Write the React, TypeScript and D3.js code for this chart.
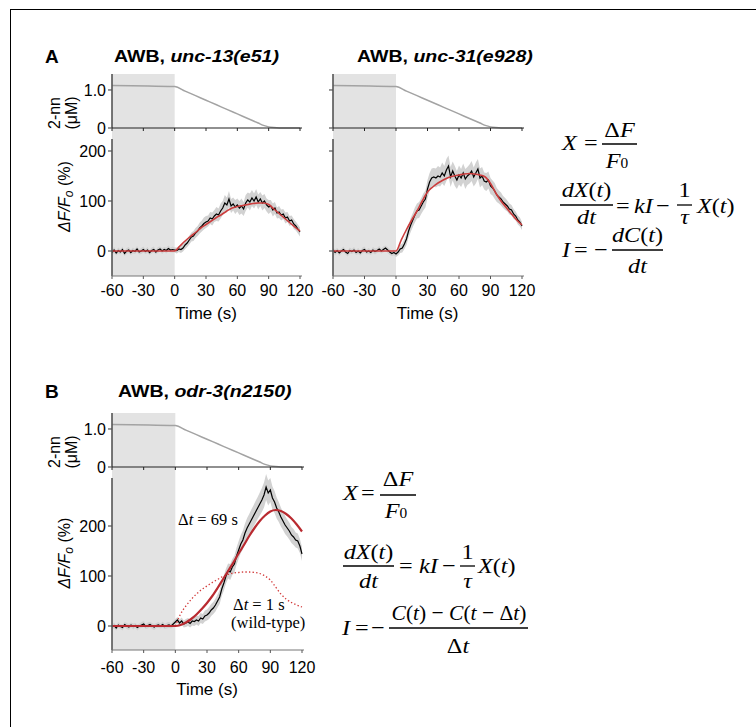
import React from 'react';
import * as d3 from 'd3';

const sans = '"Liberation Sans", Arial, Helvetica, sans-serif';
const serif = '"Liberation Serif", "Times New Roman", serif';

// time axis
const xTicks = [-60, -30, 0, 30, 60, 90, 120];
const stimTicks = [0, 1.0];
const respTicks = [0, 100, 200];
const traceTime = d3.range(-60, 121, 2);
const fitTime = [-60, -30, 0, 5, 10, 15, 20, 25, 30, 35, 40, 45, 50, 55, 60, 65, 70, 75, 80, 85, 90, 95, 100, 105, 110, 115, 120];
const dotTime = [0, 5, 10, 15, 20, 25, 30, 35, 40, 45, 50, 55, 60, 65, 70, 75, 80, 85, 90, 95, 100, 105, 110, 115, 120];

// 2-nonanone stimulus (uM)
const stimTime = [-60, 0, 10, 20, 30, 40, 50, 60, 70, 80, 85, 90, 95, 100, 120];
const stimConc = [1.12, 1.09, 0.97, 0.85, 0.73, 0.61, 0.49, 0.37, 0.25, 0.13, 0.07, 0.03, 0.01, 0, 0];

// baseline SEM (-60..-2 s)
const semPre = [5, 6, 5, 6, 5, 6, 5, 6, 6, 5, 6, 5, 6, 5, 6, 6, 5, 6, 5, 6, 6, 5, 6, 5, 6, 5, 6, 6, 5, 6];

// unc-13(e51)
const unc13Pre = [-3, 2, -4, 1, -2, 3, -5, 0, 2, -3, 1, -1, 4, -2, 0, 3, -1, 2, -3, 1, 3, -2, 2, 4, 0, 3, 1, 5, 2, 3];
const unc13Post = [
  2, 1, 4, 3, 6, 12, 16, 22, 28, 30,
  36, 40, 46, 50, 55, 58, 60, 66, 64, 70,
  74, 72, 80, 86, 96, 92, 104, 90, 94, 88,
  92, 86, 90, 84, 96, 102, 98, 106, 100, 108,
  98, 104, 96, 100, 92, 88, 90, 82, 86, 76,
  78, 72, 74, 66, 68, 60, 62, 54, 50, 44,
  38];
const unc13Sem = [
  5, 6, 6, 7, 7, 8, 8, 9, 9, 10,
  10, 10, 11, 11, 12, 12, 11, 12, 13, 12,
  14, 13, 15, 14, 16, 15, 16, 14, 13, 14,
  13, 14, 15, 14, 16, 15, 17, 16, 15, 16,
  15, 14, 15, 14, 13, 14, 12, 13, 12, 11,
  12, 11, 10, 11, 10, 10, 9, 10, 9, 9,
  9];
const unc13Fit = [0, 0, 0, 10, 20, 29, 37, 46, 53, 60, 67, 73, 80, 86, 89, 91, 93, 95, 96, 96, 93, 84, 75, 66, 57, 48, 40];

// unc-31(e928)
const unc31Pre = [2, -3, 1, -4, 0, 3, -2, -5, 1, -1, 2, -3, 0, -4, 1, 3, -2, 0, -3, 2, -1, 1, 4, 0, 3, 6, 2, -2, -5, -3];
const unc31Post = [
  -6, -2, 4, 6, 14, 24, 40, 52, 62, 72,
  80, 82, 90, 98, 104, 124, 138, 146, 148, 146,
  150, 148, 156, 150, 162, 170, 148, 160, 150, 142,
  152, 146, 156, 144, 150, 154, 160, 148, 156, 164,
  146, 150, 140, 138, 142, 130, 126, 120, 112, 108,
  104, 98, 94, 90, 84, 82, 74, 70, 62, 58,
  50];
const unc31Sem = [
  6, 7, 8, 9, 10, 12, 13, 14, 14, 15,
  15, 16, 16, 17, 17, 18, 18, 19, 18, 19,
  20, 19, 21, 20, 22, 21, 20, 19, 20, 18,
  19, 18, 19, 20, 18, 19, 20, 19, 21, 20,
  19, 18, 17, 18, 17, 16, 15, 16, 14, 13,
  13, 12, 12, 11, 11, 10, 10, 9, 9, 9,
  8];
const unc31Fit = [0, 0, 0, 22, 43, 62, 80, 100, 118, 128, 136, 142, 147, 150, 152, 154, 155, 154, 152, 148, 135, 116, 100, 87, 74, 62, 52];

// odr-3(n2150)
const odr3Pre = [-2, 1, -4, 2, -1, -3, 3, 0, -2, 2, -1, 1, -3, 0, 2, 4, -1, 1, 3, 0, -2, 1, 2, 0, 3, -1, 1, 2, 0, 4];
const odr3Post = [
  8, 12, 6, 10, 4, 6, 8, 5, 10, 9,
  12, 10, 16, 14, 20, 22, 26, 32, 36, 42,
  50, 58, 74, 86, 100, 110, 108, 118, 124, 140,
  152, 164, 172, 186, 196, 204, 212, 220, 228, 236,
  244, 252, 262, 278, 266, 272, 256, 248, 236, 228,
  218, 210, 202, 196, 190, 182, 178, 172, 170, 160,
  144];
const odr3Sem = [
  6, 6, 7, 7, 7, 8, 8, 8, 9, 9,
  9, 10, 10, 10, 11, 11, 12, 12, 12, 13,
  13, 14, 14, 15, 15, 15, 16, 16, 17, 17,
  18, 18, 19, 19, 20, 20, 21, 21, 22, 22,
  23, 24, 25, 26, 25, 24, 23, 22, 21, 20,
  19, 18, 18, 17, 17, 16, 16, 15, 15, 14,
  14];
const odr3Fit = [0, 0, 0, 2, 7, 14, 23, 34, 46, 60, 76, 93, 110, 127, 145, 162, 180, 196, 210, 221, 229, 232, 230, 224, 215, 203, 189];
const wildTypeFit = [0, 24, 40, 53, 64, 73, 80, 87, 93, 99, 103, 106, 107, 108, 108, 107, 105, 100, 92, 78, 64, 54, 47, 42, 38];

type PanelProps = {
  left: number; right: number;
  topTop: number; topBot: number; botTop: number; botBot: number;
  botDomain: [number, number];
  mean: number[]; sem: number[]; fit: number[]; dotted?: number[];
  labels: boolean;
  fitColor: string; fitWidth: number;
  tickY: number; timeY: number;
};

function Panel(p: PanelProps) {
  const x = d3.scaleLinear().domain([-60, 120]).range([p.left, p.right]);
  const yS = d3.scaleLinear().domain([0, 1.42]).range([p.topBot, p.topTop]);
  const yR = d3.scaleLinear().domain(p.botDomain).range([p.botBot, p.botTop]);

  const band = d3.area<number>()
    .x((_, i) => x(traceTime[i]))
    .y0((d, i) => yR(d - (p.sem[i] ?? 6)))
    .y1((d, i) => yR(d + (p.sem[i] ?? 6)));
  const meanLine = d3.line<number>().x((_, i) => x(traceTime[i])).y((d) => yR(d));
  const fitLine = d3.line<number>().x((_, i) => x(fitTime[i])).y((d) => yR(d)).curve(d3.curveMonotoneX);
  const dotLine = d3.line<number>().x((_, i) => x(dotTime[i])).y((d) => yR(d)).curve(d3.curveMonotoneX);
  const stimLine = d3.line<number>().x((_, i) => x(stimTime[i])).y((d) => yS(d)).curve(d3.curveMonotoneX);

  const topMid = (p.topTop + p.topBot) / 2;
  const botMid = (p.botTop + p.botBot) / 2;

  return (
    <g>
      <rect x={x(-60)} y={p.topTop} width={x(0) - x(-60)} height={p.botBot - p.topTop} fill="#e3e3e3" />
      <path d={band(p.mean) || ''} fill="#d2d2d2" />
      <path d={meanLine(p.mean) || ''} fill="none" stroke="#000" strokeWidth={1.2} />
      {p.dotted && (
        <path d={dotLine(p.dotted) || ''} fill="none" stroke="#d23a3a" strokeWidth={1.3} strokeDasharray="1.4,2.2" />
      )}
      <path d={fitLine(p.fit) || ''} fill="none" stroke={p.fitColor} strokeWidth={p.fitWidth} />
      <path d={stimLine(stimConc) || ''} fill="none" stroke="#a3a3a3" strokeWidth={1.5} />

      {/* top stimulus axes */}
      <line x1={p.left} x2={p.left} y1={p.topTop} y2={p.topBot} stroke="#555" strokeWidth={1.6} />
      <line x1={p.left} x2={p.right + 2} y1={p.topBot} y2={p.topBot} stroke="#222" strokeWidth={1.2} />
      {xTicks.map((t) => (
        <line key={'tt' + t} x1={x(t)} x2={x(t)} y1={p.topBot} y2={p.topBot + 3} stroke="#222" strokeWidth={1} />
      ))}
      {stimTicks.map((v) => (
        <g key={'st' + v}>
          <line x1={p.left - 4} x2={p.left} y1={yS(v)} y2={yS(v)} stroke="#555" strokeWidth={1.2} />
          {p.labels && (
            <text x={p.left - 6} y={yS(v) + 6} textAnchor="end" fontFamily={sans} fontSize={16}>
              {v === 0 ? '0' : '1.0'}
            </text>
          )}
        </g>
      ))}

      {/* response axes */}
      <line x1={p.left} x2={p.left} y1={p.botTop} y2={p.botBot} stroke="#555" strokeWidth={1.6} />
      <line x1={p.left} x2={p.right + 2} y1={p.botBot} y2={p.botBot} stroke="#777" strokeWidth={1} />
      {xTicks.map((t) => (
        <g key={'bt' + t}>
          <line x1={x(t)} x2={x(t)} y1={p.botBot} y2={p.botBot + 3} stroke="#555" strokeWidth={1} />
          <text x={x(t)} y={p.tickY} textAnchor="middle" fontFamily={sans} fontSize={16}>{t}</text>
        </g>
      ))}
      {respTicks.map((v) => (
        <g key={'rt' + v}>
          <line x1={p.left - 4} x2={p.left} y1={yR(v)} y2={yR(v)} stroke="#555" strokeWidth={1.2} />
          {p.labels && (
            <text x={p.left - 6} y={yR(v) + 6} textAnchor="end" fontFamily={sans} fontSize={16}>{v}</text>
          )}
        </g>
      ))}
      <text x={(p.left + p.right) / 2} y={p.timeY} textAnchor="middle" fontFamily={sans} fontSize={17}>Time (s)</text>

      {p.labels && (
        <g fontFamily={sans} fontSize={16}>
          <text transform={`translate(60,${topMid + 12}) rotate(-90)`} textAnchor="middle">2-nn</text>
          <text transform={`translate(77,${topMid + 12}) rotate(-90)`} textAnchor="middle">(μM)</text>
          <text transform={`translate(70,${botMid - 11}) rotate(-90)`} textAnchor="middle">
            <tspan fontStyle="italic">ΔF/F</tspan>
            <tspan fontStyle="italic" fontSize={12} dy={3}>o</tspan>
            <tspan dy={-3}> (%)</tspan>
          </text>
        </g>
      )}
    </g>
  );
}

const Eq = ({ x, y, anchor = 'start', sx = 1.1, size = 22, children }:
  { x: number; y: number; anchor?: string; sx?: number; size?: number; children: React.ReactNode }) => (
  <text transform={`translate(${x},${y}) scale(${sx},1)`} textAnchor={anchor as any} fontFamily={serif} fontSize={size}>
    {children}
  </text>
);
const It = ({ children }: { children: React.ReactNode }) => <tspan fontStyle="italic">{children}</tspan>;
const Bar = ({ x1, x2, y }: { x1: number; x2: number; y: number }) => (
  <line x1={x1} x2={x2} y1={y} y2={y} stroke="#000" strokeWidth={1.3} />
);

const Title = ({ x, y, gene }: { x: number; y: number; gene: string }) => (
  <text transform={`translate(${x},${y}) scale(1.15,1)`} fontFamily={sans} fontSize={17} fontWeight="bold">
    AWB, <tspan fontStyle="italic">{gene}</tspan>
  </text>
);

export default function App() {
  const cat = (a: number[], b: number[]) => a.concat(b);
  return (
    <svg width={756} height={727} style={{ position: 'absolute', left: 0, top: 0, background: '#fff' }}>
      <rect x={10.5} y={9.5} width={780} height={760} fill="none" stroke="#000" strokeWidth={1} />

      <text x={45} y={63} fontFamily={sans} fontSize={19} fontWeight="bold">A</text>
      <Title x={114} y={62} gene="unc-13(e51)" />
      <Title x={357} y={62} gene="unc-31(e928)" />
      <text x={45} y={398} fontFamily={sans} fontSize={19} fontWeight="bold">B</text>
      <Title x={118} y={397} gene="odr-3(n2150)" />

      <Panel left={112} right={300} topTop={74} topBot={128} botTop={139} botBot={276} botDomain={[-50, 224]}
        mean={cat(unc13Pre, unc13Post)} sem={cat(semPre, unc13Sem)} fit={unc13Fit} labels
        fitColor="#cc3d3d" fitWidth={1.6} tickY={296} timeY={319} />
      <Panel left={333} right={522} topTop={74} topBot={128} botTop={139} botBot={276} botDomain={[-50, 224]}
        mean={cat(unc31Pre, unc31Post)} sem={cat(semPre, unc31Sem)} fit={unc31Fit} labels={false}
        fitColor="#cc3d3d" fitWidth={1.6} tickY={296} timeY={319} />
      <Panel left={112} right={302} topTop={413} topBot={467} botTop={478} botBot={650} botDomain={[-48, 296]}
        mean={cat(odr3Pre, odr3Post)} sem={cat(semPre, odr3Sem)} fit={odr3Fit} dotted={wildTypeFit} labels
        fitColor="#b92a30" fitWidth={2.2} tickY={673} timeY={695} />

      {/* annotations in B */}
      <g fontFamily={serif} fontSize={16.5}>
        <text x={178} y={525}>Δ<tspan fontStyle="italic">t</tspan> = 69 s</text>
        <text x={233} y={610}>Δ<tspan fontStyle="italic">t</tspan> = 1 s</text>
        <text x={231} y={628}>(wild-type)</text>
      </g>

      {/* model equations, panel A */}
      <Eq x={562} y={150}><It>X</It></Eq>
      <Eq x={584} y={150}>=</Eq>
      <Bar x1={602} x2={637} y={144} />
      <Eq x={619.5} y={137} anchor="middle">Δ<It>F</It></Eq>
      <Eq x={617} y={168} anchor="middle"><It>F</It><tspan fontSize={14}>0</tspan></Eq>

      <Bar x1={560} x2={613} y={205} />
      <Eq x={586.5} y={197} anchor="middle"><It>dX</It>(<It>t</It>)</Eq>
      <Eq x={586.5} y={224} anchor="middle"><It>dt</It></Eq>
      <Eq x={616} y={213}>=</Eq>
      <Eq x={634} y={213}><It>kI</It></Eq>
      <Eq x={656} y={213}>−</Eq>
      <Bar x1={677} x2={692} y={205} />
      <Eq x={684.5} y={197} anchor="middle">1</Eq>
      <Eq x={684.5} y={224} anchor="middle"><It>τ</It></Eq>
      <Eq x={697} y={213}><It>X</It>(<It>t</It>)</Eq>

      <Eq x={562} y={257}><It>I</It></Eq>
      <Eq x={574} y={257}>=</Eq>
      <Eq x={594} y={257}>−</Eq>
      <Bar x1={612} x2={663} y={250} />
      <Eq x={637.5} y={242} anchor="middle"><It>dC</It>(<It>t</It>)</Eq>
      <Eq x={637.5} y={273} anchor="middle"><It>dt</It></Eq>

      {/* model equations, panel B */}
      <Eq x={343} y={500}><It>X</It></Eq>
      <Eq x={361} y={500}>=</Eq>
      <Bar x1={380} x2={416} y={495} />
      <Eq x={398} y={486} anchor="middle">Δ<It>F</It></Eq>
      <Eq x={396} y={518} anchor="middle"><It>F</It><tspan fontSize={14}>0</tspan></Eq>

      <Bar x1={343} x2={394} y={566} />
      <Eq x={368.5} y={559} anchor="middle"><It>dX</It>(<It>t</It>)</Eq>
      <Eq x={368.5} y={588} anchor="middle"><It>dt</It></Eq>
      <Eq x={399} y={573}>=</Eq>
      <Eq x={419} y={573}><It>kI</It></Eq>
      <Eq x={442} y={573}>−</Eq>
      <Bar x1={460} x2={475} y={566} />
      <Eq x={467.5} y={559} anchor="middle">1</Eq>
      <Eq x={467.5} y={588} anchor="middle"><It>τ</It></Eq>
      <Eq x={478} y={573}><It>X</It>(<It>t</It>)</Eq>

      <Eq x={342} y={635}><It>I</It></Eq>
      <Eq x={355} y={635}>=</Eq>
      <Eq x={371} y={635}>−</Eq>
      <Bar x1={389} x2={528} y={628} />
      <Eq x={459} y={620} anchor="middle" sx={1} size={21.5}><It>C</It>(<It>t</It>) − <It>C</It>(<It>t</It> − Δ<It>t</It>)</Eq>
      <Eq x={458} y={653} anchor="middle">Δ<It>t</It></Eq>
    </svg>
  );
}
